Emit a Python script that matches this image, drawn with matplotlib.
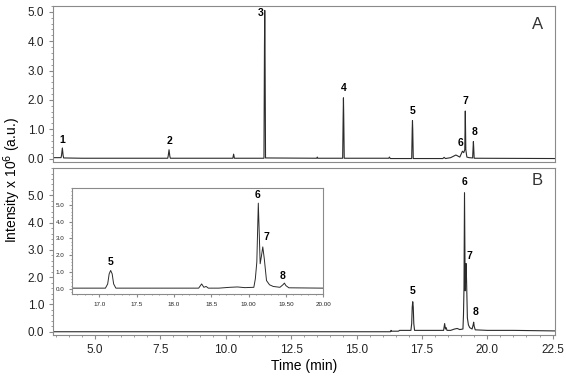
import matplotlib
matplotlib.use("Agg")
import matplotlib.pyplot as plt
from matplotlib.ticker import MultipleLocator

plt.rcParams['font.family'] = ['Liberation Sans', 'DejaVu Sans']

# trace A (time in min, intensity x 1e6)
time_a = [3.40, 3.70, 3.72, 3.75, 3.78, 3.80, 4.50, 7.78, 7.80, 7.83, 7.86, 7.88,
          10.27, 10.30, 10.33, 11.46, 11.48, 11.49, 11.50, 11.52, 13.48, 13.50, 13.52,
          14.47, 14.49, 14.50, 14.51, 14.53, 16.23, 16.26, 16.29, 17.11, 17.13, 17.14,
          17.15, 17.17, 18.30, 18.35, 18.40, 18.60, 18.80, 18.95, 19.05, 19.10, 19.14,
          19.16, 19.18, 19.22, 19.30, 19.44, 19.46, 19.47, 19.48, 19.50, 22.60]
int_a = [0.03, 0.03, 0.12, 0.36, 0.10, 0.02, 0.01, 0.01, 0.10, 0.30, 0.08, 0.01,
         0.01, 0.15, 0.01, 0.01, 3.90, 5.05, 3.90, 0.02, 0.01, 0.05, 0.01,
         0.01, 1.50, 2.07, 1.50, 0.01, 0.01, 0.05, 0.00, 0.00, 1.00, 1.29,
         1.00, 0.00, 0.00, 0.04, 0.00, 0.03, 0.12, 0.05, 0.25, 0.20, 0.30,
         1.62, 0.30, 0.05, 0.03, 0.02, 0.40, 0.58, 0.40, 0.01, 0.00]

# trace B
time_b = [3.40, 16.30, 16.32, 16.34, 16.60, 16.65, 17.08, 17.11, 17.13, 17.15, 17.17,
          17.19, 17.22, 18.33, 18.37, 18.40, 18.43, 18.46, 18.60, 18.75, 18.85, 18.95,
          19.07, 19.09, 19.11, 19.13, 19.155, 19.17, 19.19, 19.21, 19.24, 19.28, 19.33,
          19.42, 19.46, 19.48, 19.50, 19.54, 20.00, 21.00, 22.60]
int_b = [0.00, 0.00, 0.05, 0.02, 0.02, 0.05, 0.05, 0.30, 0.90, 1.10, 0.90,
         0.30, 0.05, 0.05, 0.30, 0.10, 0.15, 0.05, 0.05, 0.10, 0.12, 0.08,
         0.10, 0.60, 1.60, 5.10, 1.50, 1.90, 2.50, 1.80, 0.50, 0.25, 0.15,
         0.10, 0.25, 0.35, 0.20, 0.07, 0.05, 0.05, 0.03]

# peak labels: (label, time, height of text)
labels_a = [('1', 3.75, 0.45), ('2', 7.83, 0.42), ('3', 11.32, 4.8), ('4', 14.50, 2.25),
            ('5', 17.14, 1.45), ('6', 18.98, 0.35), ('7', 19.16, 1.78), ('8', 19.50, 0.75)]
labels_b = [('5', 17.14, 1.3), ('6', 19.13, 5.3), ('7', 19.30, 2.6), ('8', 19.55, 0.55)]
labels_in = [('5', 17.15, 1.3), ('6', 19.12, 5.3), ('7', 19.24, 2.8), ('8', 19.46, 0.5)]

yticks = [0, 1, 2, 3, 4, 5]
xticks = [5.0, 7.5, 10.0, 12.5, 15.0, 17.5, 20.0, 22.5]
inset_xticks = [17.0, 17.5, 18.0, 18.5, 19.0, 19.5, 20.0]
inset_xlabels = ['17.0', '17.5', '18.0', '18.5', '19.00', '19.50', '20.00']

line_col = '#2b2b2b'
spine_col = '#8a8a8a'

fig = plt.figure(figsize=(5.66, 3.76), dpi=100)
ax_a = fig.add_axes([0.094, 0.569, 0.887, 0.415])
ax_b = fig.add_axes([0.094, 0.109, 0.887, 0.444])


def style(ax, size=8.5):
    for s in ax.spines.values():
        s.set_color(spine_col)
        s.set_linewidth(0.8)
    ax.tick_params(which='both', direction='out', color=spine_col, labelsize=size,
                   labelcolor='#222222')
    ax.tick_params(which='major', length=3)
    ax.tick_params(which='minor', length=1.5)


for ax in (ax_a, ax_b):
    style(ax)
    ax.set_xlim(3.4, 22.6)
    ax.set_yticks(yticks)
    ax.set_yticklabels(['%.1f' % v for v in yticks])
    ax.yaxis.set_minor_locator(MultipleLocator(0.2))
    ax.xaxis.set_minor_locator(MultipleLocator(0.5))
    ax.set_xticks(xticks)

ax_a.plot(time_a, int_a, color=line_col, lw=0.8)
ax_a.set_ylim(-0.12, 5.2)
ax_a.set_xticklabels([])
ax_a.tick_params(axis='x', which='both', length=0)
ax_a.text(0.975, 0.93, 'A', transform=ax_a.transAxes, ha='right', va='top', fontsize=12,
          color='#333333')
for lab, t, h in labels_a:
    ax_a.text(t, h, lab, ha='center', va='bottom', fontsize=7.5, fontweight='bold')

ax_b.plot(time_b, int_b, color=line_col, lw=0.8)
ax_b.set_ylim(-0.12, 6.0)
ax_b.set_xticklabels(['%.1f' % v for v in xticks])
ax_b.set_xlabel('Time (min)', fontsize=10, labelpad=2)
ax_b.text(0.975, 0.97, 'B', transform=ax_b.transAxes, ha='right', va='top', fontsize=12,
          color='#333333')
for lab, t, h in labels_b:
    ax_b.text(t, h, lab, ha='center', va='bottom', fontsize=7.5, fontweight='bold')

fig.text(0.022, 0.52, 'Intensity x 10$^6$ (a.u.)', rotation=90, ha='center', va='center',
         fontsize=10)

# inset zoom of peaks 5-8
ax_in = fig.add_axes([0.127, 0.218, 0.444, 0.282])
style(ax_in, size=4.5)
ax_in.plot(time_b, int_b, color=line_col, lw=0.7)
ax_in.set_xlim(16.63, 20.0)
ax_in.set_ylim(-0.3, 6.0)
ax_in.set_yticks(yticks)
ax_in.set_yticklabels(['%.1f' % v for v in yticks])
ax_in.set_xticks(inset_xticks)
ax_in.set_xticklabels(inset_xlabels)
ax_in.yaxis.set_minor_locator(MultipleLocator(0.2))
ax_in.xaxis.set_minor_locator(MultipleLocator(0.1))
ax_in.tick_params(which='major', length=2)
ax_in.tick_params(which='minor', length=1)
for lab, t, h in labels_in:
    ax_in.text(t, h, lab, ha='center', va='bottom', fontsize=7.5, fontweight='bold')

fig.savefig('out.png', dpi=100)
